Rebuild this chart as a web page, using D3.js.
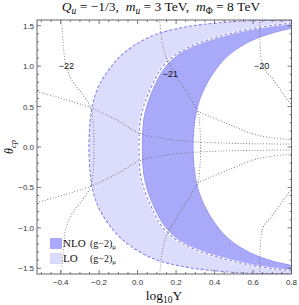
<!DOCTYPE html>
<html><head><meta charset="utf-8">
<script src="https://cdn.jsdelivr.net/npm/d3@7"></script>
<style>body{margin:0;background:#fff}text{white-space:pre}</style>
</head><body><svg id="c" width="299" height="305"></svg>
<script>
// ---- data: [log10Y, theta_cp] ----
const loLeft = [[0.8,1.568],[0.584,1.562],[0.412,1.534],[0.235,1.479],[0.07,1.37],[-0.07,1.165],[-0.15,0.955],[-0.204,0.744],[-0.232,0.545],[-0.246,0.335],[-0.253,0],
 [-0.246,-0.335],[-0.232,-0.545],[-0.204,-0.744],[-0.15,-0.955],[-0.07,-1.165],[0.07,-1.37],[0.235,-1.479],[0.412,-1.534],[0.584,-1.562],[0.8,-1.568]];
const loRight = [[0.8,1.534],[0.584,1.459],[0.407,1.355],[0.282,1.252],[0.195,1.137],[0.118,0.955],[0.072,0.744],[0.037,0.545],[0.014,0.335],[0.007,0],
 [0.014,-0.335],[0.037,-0.545],[0.072,-0.744],[0.118,-0.955],[0.195,-1.137],[0.282,-1.252],[0.407,-1.355],[0.584,-1.459],[0.8,-1.534]];
const nloLeft = [[0.8,1.531],[0.589,1.459],[0.417,1.355],[0.292,1.252],[0.208,1.137],[0.134,0.955],[0.086,0.744],[0.053,0.545],[0.032,0.335],[0.025,0],
 [0.032,-0.335],[0.053,-0.545],[0.086,-0.744],[0.134,-0.955],[0.208,-1.137],[0.292,-1.252],[0.417,-1.355],[0.589,-1.459],[0.8,-1.531]];
const nloRight = [[0.8,1.469],[0.704,1.413],[0.584,1.308],[0.475,1.14],[0.41,0.97],[0.355,0.76],[0.318,0.55],[0.298,0.335],[0.288,0],
 [0.298,-0.335],[0.318,-0.55],[0.355,-0.76],[0.41,-0.97],[0.475,-1.14],[0.584,-1.308],[0.704,-1.413],[0.8,-1.469]];

// dotted contours
const arc22 = [[-0.395,1.571],[-0.387,1.286],[-0.372,1.0],[-0.337,0.81],[-0.284,0.645],[-0.243,0.48],[-0.228,0.21],[-0.227,0],
 [-0.228,-0.21],[-0.243,-0.48],[-0.284,-0.645],[-0.337,-0.81],[-0.372,-1.0],[-0.387,-1.286],[-0.395,-1.571]];
const arc21 = [[0.115,1.571],[0.125,1.33],[0.15,1.1],[0.19,0.92],[0.236,0.748],[0.29,0.54],[0.314,0.438],[0.325,0.2],[0.327,0],
 [0.325,-0.2],[0.314,-0.438],[0.29,-0.54],[0.236,-0.748],[0.19,-0.92],[0.15,-1.1],[0.125,-1.33],[0.115,-1.571]];
const arc20Up = [[0.636,1.571],[0.636,1.327],[0.652,1.0],[0.706,0.83],[0.768,0.62],[0.803,0.52],[0.84,0.44]];
const arc20Dn = [[0.636,-1.571],[0.636,-1.327],[0.652,-1.0],[0.706,-0.83],[0.768,-0.62],[0.803,-0.52],[0.84,-0.44]];
const r1Up = [[-0.523,0.686],[-0.38,0.59],[-0.239,0.48],[-0.11,0.335],[0.011,0.17],[0.15,0.1],[0.288,0.066],[0.5,0.045],[0.8,0.037]];
const r1Dn = [[-0.523,-0.686],[-0.38,-0.59],[-0.239,-0.48],[-0.11,-0.335],[0.011,-0.17],[0.15,-0.1],[0.288,-0.066],[0.5,-0.045],[0.8,-0.037]];
const r2Up = [[0.314,0.438],[0.462,0.294],[0.618,0.149],[0.8,0.087]];
const r2Dn = [[0.314,-0.438],[0.462,-0.294],[0.618,-0.149],[0.8,-0.087]];
const contourLabels = [{t:"−22",x:-0.37,y:1.0},{t:"−21",x:0.17,y:0.9},{t:"−20",x:0.645,y:1.0}];

const xTicks = [-0.4,-0.2,0,0.2,0.4,0.6,0.8];
const xTickLabels = ["−0.4","−0.2","0.0","0.2","0.4","0.6","0.8"];
const yTicks = [-1.5,-1,-0.5,0,0.5,1,1.5];
const yTickLabels = ["−1.5","−1.0","−0.5","0.0","0.5","1.0","1.5"];

const L=37, R=291.5, T=20, B=274;
const svg = d3.select("#c");
const x = d3.scaleLinear().domain([-0.523,0.8]).range([L,R]);
const y = d3.scaleLinear().domain([-Math.PI/2,Math.PI/2]).range([B,T]);

svg.append("defs").append("clipPath").attr("id","clip").append("rect")
 .attr("x",L).attr("y",T).attr("width",R-L).attr("height",B-T);
const g = svg.append("g").attr("clip-path","url(#clip)");

const line = d3.line().x(d=>x(d[0])).y(d=>y(d[1])).curve(d3.curveCatmullRom.alpha(0.5));
const band = (a,b) => line(a.concat(b.slice().reverse())) + "Z";

const cLight="#dcdcfd", cDark="#a9a9f9", sDash="#8585e8", sSolid="#9898f2";
g.append("path").attr("d",band(loLeft,loRight)).attr("fill",cLight);
g.append("path").attr("d",band(nloLeft,nloRight)).attr("fill",cDark);
[nloLeft,nloRight].forEach(a=>g.append("path").attr("d",line(a)).attr("fill","none").attr("stroke",sSolid).attr("stroke-width",1));
g.append("path").attr("d",line(loRight)).attr("fill","none").attr("stroke","#fff").attr("stroke-width",2.2);
[loLeft,loRight].forEach(a=>g.append("path").attr("d",line(a)).attr("fill","none").attr("stroke",sDash).attr("stroke-width",1.1).attr("stroke-dasharray","3,2"));

// dotted contours
[arc22,arc21,arc20Up,arc20Dn,r1Up,r1Dn,r2Up,r2Dn].forEach(a=>g.append("path").attr("d",line(a)).attr("fill","none")
 .attr("stroke","#6a6a6a").attr("stroke-width",1.05).attr("stroke-dasharray","0.01,2.8").attr("stroke-linecap","round"));

g.selectAll(".cl").data(contourLabels).enter().append("text").attr("x",d=>x(d.x)).attr("y",d=>y(d.y)+3)
 .attr("text-anchor","middle").attr("font-family","Liberation Sans, Arial").attr("font-size",9).attr("fill","#111").text(d=>d.t);

svg.append("rect").attr("x",L).attr("y",T).attr("width",R-L).attr("height",B-T).attr("fill","none").attr("stroke","#555").attr("stroke-width",0.9);

const fr = svg.append("g").attr("stroke","#555").attr("stroke-width",0.8);
const xMinor = d3.range(-0.5,0.801,0.05).filter(v=>!xTicks.some(t=>Math.abs(t-v)<1e-6));
const yMinor = d3.range(-1.5,1.501,0.1).filter(v=>!yTicks.some(t=>Math.abs(t-v)<1e-6));
xTicks.forEach(v=>{fr.append("line").attr("x1",x(v)).attr("x2",x(v)).attr("y1",B).attr("y2",B-4);
 fr.append("line").attr("x1",x(v)).attr("x2",x(v)).attr("y1",T).attr("y2",T+4);});
xMinor.forEach(v=>{fr.append("line").attr("x1",x(v)).attr("x2",x(v)).attr("y1",B).attr("y2",B-2);
 fr.append("line").attr("x1",x(v)).attr("x2",x(v)).attr("y1",T).attr("y2",T+2);});
yTicks.forEach(v=>{fr.append("line").attr("x1",L).attr("x2",L+4).attr("y1",y(v)).attr("y2",y(v));
 fr.append("line").attr("x1",R).attr("x2",R-4).attr("y1",y(v)).attr("y2",y(v));});
yMinor.forEach(v=>{fr.append("line").attr("x1",L).attr("x2",L+2).attr("y1",y(v)).attr("y2",y(v));
 fr.append("line").attr("x1",R).attr("x2",R-2).attr("y1",y(v)).attr("y2",y(v));});

svg.selectAll(".xl").data(xTicks).enter().append("text").attr("x",d=>x(d)).attr("y",B+11)
 .attr("text-anchor","middle").attr("font-family","Liberation Sans, Arial").attr("font-size",8).attr("fill","#333")
 .text((d,i)=>xTickLabels[i]);
svg.selectAll(".yl").data(yTicks).enter().append("text").attr("x",L-3).attr("y",d=>y(d)+3)
 .attr("text-anchor","end").attr("font-family","Liberation Sans, Arial").attr("font-size",8).attr("fill","#333")
 .text((d,i)=>yTickLabels[i]);

const ti = svg.append("text").attr("x",161).attr("y",11).attr("text-anchor","middle")
 .attr("font-family","Liberation Serif, Times New Roman").attr("font-size",13.5).attr("fill","#111");
ti.append("tspan").attr("font-style","italic").text("Q");
ti.append("tspan").attr("font-style","italic").attr("font-size",9.5).attr("dy",2.5).text("u");
ti.append("tspan").attr("dy",-2.5).text(" = −1/3,  ");
ti.append("tspan").attr("font-style","italic").text("m");
ti.append("tspan").attr("font-style","italic").attr("font-size",9.5).attr("dy",2.5).text("u");
ti.append("tspan").attr("dy",-2.5).text(" = 3 TeV,  ");
ti.append("tspan").attr("font-style","italic").text("m");
ti.append("tspan").attr("font-size",9.5).attr("dy",2.5).text("Φ");
ti.append("tspan").attr("dy",-2.5).text(" = 8 TeV");

const xl = svg.append("text").attr("x",164).attr("y",300).attr("text-anchor","middle")
 .attr("font-family","Liberation Serif, Times New Roman").attr("font-size",13.5).attr("fill","#111");
xl.append("tspan").text("log");
xl.append("tspan").attr("font-size",9.5).attr("dy",3).text("10");
xl.append("tspan").attr("dy",-3).text("Y");

const yl = svg.append("text").attr("transform","translate(13,147) rotate(-90)").attr("text-anchor","middle")
 .attr("font-family","Liberation Serif, Times New Roman").attr("font-size",12).attr("fill","#111");
yl.append("tspan").attr("font-style","italic").text("θ");
yl.append("tspan").attr("font-style","italic").attr("font-size",8.5).attr("dy",2.5).text("cp");

const legend = [{name:"NLO",fill:cDark,stroke:"#8c8cee"},{name:"LO",fill:cLight,stroke:"#c9c9f7"}];
const lg = svg.append("g");
legend.forEach((d,i)=>{
 const yy = 238.5 + i*15;
 lg.append("rect").attr("x",50.5).attr("y",yy).attr("width",11).attr("height",10).attr("fill",d.fill).attr("stroke",d.stroke).attr("stroke-width",0.6);
 lg.append("text").attr("x",63).attr("y",yy+8.5).attr("font-family","Liberation Serif, Times New Roman").attr("font-size",11).attr("fill","#111").text(d.name);
 const t2 = lg.append("text").attr("x",90).attr("y",yy+8.5).attr("font-family","Liberation Serif, Times New Roman").attr("font-size",10).attr("fill","#111");
 t2.append("tspan").text("(g−2)");
 t2.append("tspan").attr("font-size",7).attr("dy",2).text("μ");
});
</script></body></html>
